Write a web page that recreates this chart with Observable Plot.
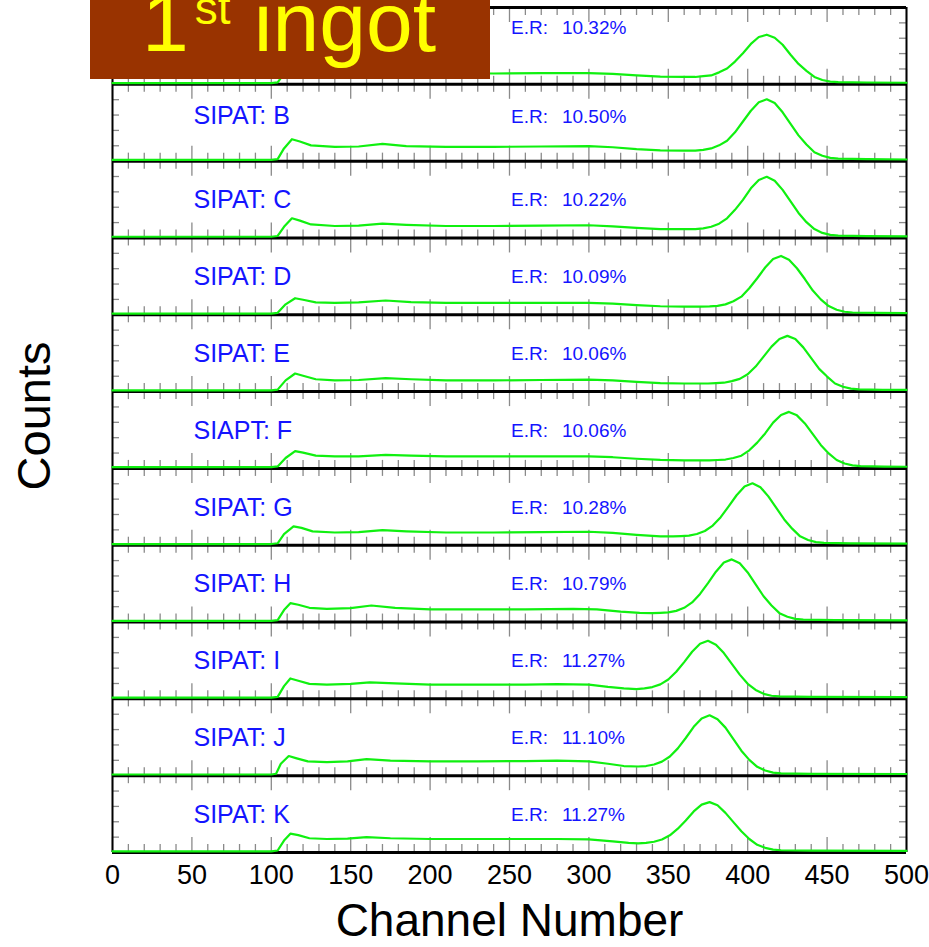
<!DOCTYPE html>
<html><head><meta charset="utf-8">
<script src="https://cdn.jsdelivr.net/npm/d3@7"></script>
<script src="https://cdn.jsdelivr.net/npm/@observablehq/plot@0.6"></script>
<style>
html,body{margin:0;padding:0;background:#fff;}
#wrap{position:relative;width:929px;height:947px;overflow:hidden;}
#badge{position:absolute;left:90px;top:0;width:400px;height:79px;background:#993300;overflow:hidden;}
</style></head><body>
<div id="wrap"><div id="badge"><svg width="400" height="79" style="font-family:'Liberation Sans',Arial,sans-serif"><text x="52" y="51" font-size="84" fill="#ffff00">1<tspan font-size="46" dx="6" dy="-27">st</tspan><tspan font-size="84" dy="27"> ingot</tspan></text></svg></div></div>
<script>
const panels = ["A","B","C","D","E","F","G","H","I","J","K"];
const panelLabels = ["SIPAT: A","SIPAT: B","SIPAT: C","SIPAT: D","SIPAT: E","SIAPT: F","SIPAT: G","SIPAT: H","SIPAT: I","SIPAT: J","SIPAT: K"];
const energyResolution = ["10.32%","10.50%","10.22%","10.09%","10.06%","10.06%","10.28%","10.79%","11.27%","11.10%","11.27%"];
const xTickLabels = [0,50,100,150,200,250,300,350,400,450,500];

const spectrumA = [[0,0],[100,0],[104,0.01],[108,0.12],[113,0.20],[118,0.18],[125,0.15],[140,0.14],[155,0.145],[170,0.165],[185,0.15],[210,0.13],[240,0.125],[270,0.13],[300,0.13],[315,0.12],[330,0.10],[345,0.085],[360,0.08],[367,0.08],[372,0.09],[377,0.10],[382,0.14],[387,0.19],[392,0.28],[397,0.39],[402,0.51],[407,0.60],[412,0.63],[417,0.59],[422,0.50],[427,0.37],[432,0.25],[437,0.16],[442,0.08],[447,0.04],[452,0.02],[457,0.012],[475,0.008],[500,0.005]];
const spectrumB = [[0,0],[100,0],[104,0.01],[108,0.15],[113,0.27],[118,0.24],[125,0.19],[140,0.17],[155,0.175],[170,0.21],[185,0.18],[210,0.17],[240,0.17],[270,0.175],[300,0.18],[315,0.165],[330,0.14],[345,0.125],[360,0.12],[367,0.12],[372,0.13],[377,0.15],[382,0.19],[387,0.25],[392,0.36],[397,0.50],[402,0.64],[407,0.75],[412,0.79],[417,0.74],[422,0.62],[427,0.47],[432,0.32],[437,0.20],[442,0.10],[447,0.055],[452,0.027],[457,0.017],[475,0.01],[500,0.006]];
const spectrumC = [[0,0],[100,0],[104,0.01],[108,0.13],[113,0.24],[118,0.21],[125,0.16],[140,0.14],[155,0.145],[170,0.17],[185,0.155],[210,0.14],[240,0.14],[270,0.145],[300,0.15],[315,0.135],[330,0.115],[345,0.10],[360,0.10],[367,0.10],[372,0.11],[377,0.13],[382,0.17],[387,0.24],[392,0.35],[397,0.48],[402,0.63],[407,0.74],[412,0.78],[417,0.73],[422,0.61],[427,0.46],[432,0.31],[437,0.19],[442,0.10],[447,0.05],[452,0.025],[457,0.015],[475,0.009],[500,0.005]];
const spectrumD = [[0,0],[100,0],[104,0.01],[109,0.12],[115,0.20],[120,0.18],[128,0.145],[140,0.14],[155,0.145],[172,0.17],[188,0.15],[210,0.14],[240,0.14],[270,0.14],[300,0.14],[315,0.13],[330,0.11],[345,0.095],[360,0.09],[370,0.09],[376,0.094],[381,0.10],[386,0.12],[391,0.16],[396,0.22],[401,0.33],[406,0.46],[411,0.60],[416,0.71],[421,0.75],[426,0.70],[431,0.59],[436,0.45],[441,0.30],[446,0.185],[451,0.097],[456,0.05],[461,0.024],[466,0.014],[480,0.008],[500,0.006]];
const spectrumE = [[0,0],[100,0],[104,0.01],[109,0.13],[115,0.22],[120,0.19],[128,0.145],[140,0.13],[155,0.135],[172,0.16],[188,0.145],[210,0.13],[240,0.13],[270,0.135],[300,0.14],[315,0.13],[330,0.11],[345,0.095],[360,0.09],[375,0.09],[380,0.094],[385,0.10],[390,0.12],[395,0.15],[400,0.21],[405,0.31],[410,0.44],[415,0.57],[420,0.67],[425,0.71],[430,0.67],[435,0.56],[440,0.42],[445,0.28],[450,0.18],[455,0.09],[460,0.048],[465,0.023],[470,0.014],[485,0.008],[500,0.006]];
const spectrumF = [[0,0],[100,0],[104,0.01],[109,0.12],[115,0.21],[120,0.19],[128,0.15],[140,0.14],[155,0.14],[172,0.16],[188,0.15],[210,0.14],[240,0.14],[270,0.14],[300,0.14],[315,0.13],[330,0.11],[345,0.095],[360,0.09],[376,0.09],[381,0.094],[386,0.10],[391,0.12],[396,0.15],[401,0.22],[406,0.32],[411,0.44],[416,0.58],[421,0.68],[426,0.72],[431,0.675],[436,0.57],[441,0.43],[446,0.29],[451,0.18],[456,0.094],[461,0.048],[466,0.023],[471,0.014],[486,0.008],[500,0.006]];
const spectrumG = [[0,0],[100,0],[104,0.01],[108,0.13],[114,0.23],[119,0.21],[126,0.165],[140,0.15],[155,0.155],[170,0.18],[185,0.165],[210,0.15],[240,0.15],[270,0.155],[300,0.16],[315,0.145],[330,0.12],[345,0.10],[353,0.10],[358,0.104],[363,0.11],[368,0.13],[373,0.17],[378,0.24],[383,0.35],[388,0.49],[393,0.635],[398,0.75],[403,0.79],[408,0.74],[413,0.62],[418,0.47],[423,0.32],[428,0.20],[433,0.10],[438,0.053],[443,0.025],[448,0.016],[465,0.009],[500,0.006]];
const spectrumH = [[0,0],[100,0],[104,0.01],[108,0.14],[112,0.23],[117,0.21],[124,0.17],[135,0.155],[150,0.165],[163,0.20],[178,0.17],[200,0.15],[230,0.15],[260,0.15],[290,0.155],[305,0.15],[320,0.12],[332,0.105],[340,0.10],[345,0.104],[350,0.11],[355,0.13],[360,0.17],[365,0.24],[370,0.35],[375,0.49],[380,0.64],[385,0.76],[390,0.80],[395,0.75],[400,0.63],[405,0.475],[410,0.32],[415,0.20],[420,0.10],[425,0.054],[430,0.025],[435,0.016],[455,0.009],[500,0.006]];
const spectrumI = [[0,0],[100,0],[104,0.01],[108,0.15],[112,0.25],[117,0.22],[124,0.18],[135,0.17],[150,0.18],[162,0.20],[178,0.185],[200,0.17],[230,0.17],[260,0.17],[280,0.175],[300,0.17],[312,0.14],[322,0.12],[330,0.11],[335,0.12],[340,0.138],[345,0.173],[350,0.236],[355,0.337],[360,0.463],[365,0.598],[370,0.702],[375,0.74],[380,0.69],[385,0.58],[390,0.44],[395,0.30],[400,0.18],[405,0.10],[410,0.05],[415,0.025],[420,0.016],[440,0.009],[500,0.006]];
const spectrumJ = [[0,0],[100,0],[103,0.01],[106,0.14],[111,0.24],[116,0.21],[123,0.17],[135,0.16],[148,0.17],[160,0.20],[175,0.18],[200,0.17],[230,0.17],[260,0.175],[280,0.18],[300,0.17],[312,0.14],[322,0.11],[331,0.104],[336,0.11],[341,0.13],[346,0.167],[351,0.234],[356,0.34],[361,0.475],[366,0.62],[371,0.73],[376,0.77],[381,0.72],[386,0.61],[391,0.46],[396,0.31],[401,0.19],[406,0.10],[411,0.052],[416,0.025],[421,0.015],[440,0.009],[500,0.006]];
const spectrumK = [[0,0],[100,0],[104,0.01],[108,0.14],[112,0.23],[117,0.21],[124,0.17],[135,0.16],[148,0.165],[160,0.185],[175,0.17],[200,0.16],[230,0.16],[260,0.16],[280,0.16],[300,0.155],[315,0.13],[325,0.11],[331,0.103],[336,0.109],[341,0.124],[346,0.154],[351,0.208],[356,0.294],[361,0.402],[366,0.519],[371,0.608],[376,0.64],[381,0.60],[386,0.50],[391,0.38],[396,0.26],[401,0.16],[406,0.085],[411,0.045],[416,0.022],[421,0.014],[440,0.009],[500,0.006]];

const spectra = [spectrumA,spectrumB,spectrumC,spectrumD,spectrumE,spectrumF,spectrumG,spectrumH,spectrumI,spectrumJ,spectrumK];
const n = panels.length;

// layout (not data)
const W = 929, H = 947;
const mL = 112, mR = 23, mT = 7, mB = 95;
const pxPerY = (H - mT - mB) / n;
const pxPerX = (W - mL - mR) / 500;
const majorLen = 15 / pxPerY, minorLen = 8 / pxPerY, yTickLen = 7 / pxPerX;
const labelDrop = i => i === 1 ? 0.41 : 0.51;
const erDrop = i => i === 0 ? 0.26 : (i === 1 ? 0.42 : 0.51);
const lift = 1.2 / pxPerY; // curve drawn just above the panel floor

const rows = [];
spectra.forEach((s, i) => {
  const base = n - 1 - i;
  s.forEach(([ch, c]) => rows.push({panel: panels[i], ch, y: base + c + lift}));
});

const xTicks = [];
for (let t = 0; t <= 500; t += 10) {
  const len = t % 50 === 0 ? majorLen : minorLen;
  for (let b = 0; b <= n; b++) {
    if (b < n) xTicks.push({x: t, y1: b, y2: b + len});
    if (b > 0) xTicks.push({x: t, y1: b, y2: b - len});
  }
}
const yTicks = [];
for (let b = 0; b < n; b++) for (const f of [0.2, 0.4, 0.6, 0.8]) {
  yTicks.push({y: b + f, x1: 0, x2: yTickLen});
  yTicks.push({y: b + f, x1: 500 - yTickLen, x2: 500});
}
// panel A's name is covered by the "1st ingot" badge in the reference
const labelRows = panels.map((p, i) => ({
  label: panelLabels[i], er: energyResolution[i],
  yl: n - i - labelDrop(i), ye: n - i - erDrop(i), hidden: i === 0
}));

const font = "'Liberation Sans', Arial, Helvetica, sans-serif";
const blue = "#1414ff";

const chart = Plot.plot({
  width: W, height: H,
  marginLeft: mL, marginRight: mR, marginTop: mT, marginBottom: mB,
  style: {fontFamily: font, background: "white", overflow: "visible"},
  x: {domain: [0, 500], axis: null},
  y: {domain: [0, n], axis: null},
  marks: [
    Plot.ruleX(xTicks, {x: "x", y1: "y1", y2: "y2", stroke: "#8a8a8a", strokeWidth: 1.3}),
    Plot.ruleY(yTicks, {y: "y", x1: "x1", x2: "x2", stroke: "#8a8a8a", strokeWidth: 1.3}),
    Plot.ruleY(d3.range(0, n + 1), {x1: 0, x2: 500, stroke: "black", strokeWidth: 3}),
    Plot.ruleX([0, 500], {y1: 0, y2: n, stroke: "black", strokeWidth: 2}),
    Plot.line(rows, {x: "ch", y: "y", z: "panel", stroke: "#10f010", strokeWidth: 2.2, curve: "linear"}),
    Plot.text(labelRows.filter(d => !d.hidden), {x: 51, y: "yl", text: "label", textAnchor: "start", fill: blue, fontSize: 25}),
    Plot.text(labelRows, {x: 251, y: "ye", text: () => "E.R:", textAnchor: "start", fill: blue, fontSize: 19}),
    Plot.text(labelRows, {x: 283, y: "ye", text: "er", textAnchor: "start", fill: blue, fontSize: 19}),
    Plot.axisX({ticks: xTickLabels, tickSize: 0, tickPadding: 12, fontSize: 27, label: null, tickFormat: d => String(d), fill: "black"}),
    Plot.text(["Counts"], {frameAnchor: "left", textAnchor: "middle", rotate: -90, dx: -78, dy: -14, fontSize: 47, fill: "black"}),
    Plot.text(["Channel Number"], {frameAnchor: "bottom", textAnchor: "middle", lineAnchor: "middle", dy: 69, fontSize: 46, fill: "black"})
  ]
});
document.getElementById("wrap").insertBefore(chart, document.getElementById("badge"));
chart.style.position = "absolute"; chart.style.left = "0"; chart.style.top = "0";
</script>
</body></html>
